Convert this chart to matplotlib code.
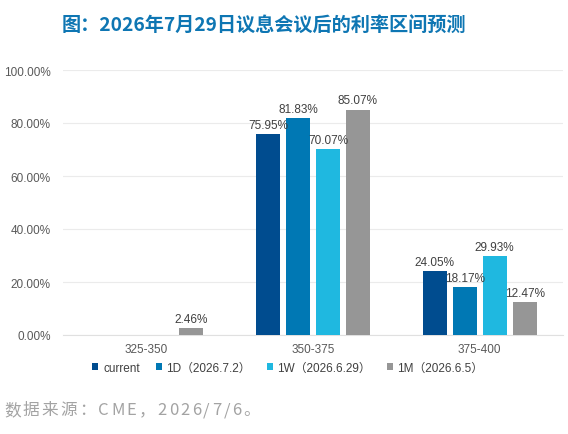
import matplotlib
matplotlib.use("Agg")
import matplotlib.pyplot as plt
import numpy as np

categories = ["325-350", "350-375", "375-400"]
series_names = ["current", "1D（2026.7.2）", "1W（2026.6.29）", "1M（2026.6.5）"]
current = [0.0, 75.95, 24.05]
d1 = [0.0, 81.83, 18.17]
w1 = [0.0, 70.07, 29.93]
m1 = [2.46, 85.07, 12.47]
colors = ["#004C8F", "#0078B4", "#1FB8E0", "#969696"]
yticks = [0, 20, 40, 60, 80, 100]
title = "图：2026年7月29日议息会议后的利率区间预测"
source = "数据来源：CME，2026/7/6。"

plt.rcParams['font.family'] = ['Liberation Sans', 'Noto Sans CJK SC', 'DejaVu Sans']

fig = plt.figure(figsize=(5.68, 4.35), dpi=100)
ax = fig.add_axes([63/568, 1-336/435, 500/568, (336-71)/435])

x = np.arange(len(categories))
width = 0.144
step = 0.18
all_series = [current, d1, w1, m1]
for i, (vals, name, c) in enumerate(zip(all_series, series_names, colors)):
    off = (i - 1.5) * step
    bars = ax.bar(x + off, vals, width=width, color=c, label=name, zorder=3)
    for b, v in zip(bars, vals):
        if v > 0:
            ax.text(b.get_x() + b.get_width()/2, v + 1.2, f"{v:.2f}%",
                    ha='center', va='bottom', fontsize=8.5, color='#404040', zorder=4)

ax.set_xlim(-0.5, 2.5)
ax.set_ylim(0, 100)
ax.set_yticks(yticks)
ax.set_yticklabels([f"{t:.2f}%" for t in yticks], fontsize=8.5, color='#595959')
ax.set_xticks(x)
ax.set_xticklabels(categories, fontsize=8.5, color='#595959')
ax.tick_params(axis='both', length=0)
ax.tick_params(axis='x', pad=6)
ax.tick_params(axis='y', pad=9)
ax.grid(axis='y', color='#EBEBEB', linewidth=0.8, zorder=0)
for s in ['top', 'right', 'left']:
    ax.spines[s].set_visible(False)
ax.spines['bottom'].set_color('#E0E0E0')

leg = fig.legend(loc='center', bbox_to_anchor=(288/568, 1-369/435), ncol=4, frameon=False,
                 fontsize=8.5, handlelength=0.5, handleheight=0.5, handletextpad=0.4,
                 columnspacing=1.35, labelcolor='#404040')

fig.text(62/568, 1-25/435, title, ha='left', va='center',
         fontsize=13.8, fontweight='bold', color='#0E76B3',
         family=['Noto Sans CJK SC', 'DejaVu Sans'])

# source line with letter spacing
fig.canvas.draw()
renderer = fig.canvas.get_renderer()
xpix = 4.0
ypix = 435 - 411
for ch in source:
    t = fig.text(xpix/568, ypix/435, ch, ha='left', va='center',
                 fontsize=12, color='#A3A3A3', family=['Noto Sans CJK SC', 'DejaVu Sans'])
    w = t.get_window_extent(renderer=renderer).width
    xpix += w + 2.2

fig.savefig("out.png", dpi=100)
